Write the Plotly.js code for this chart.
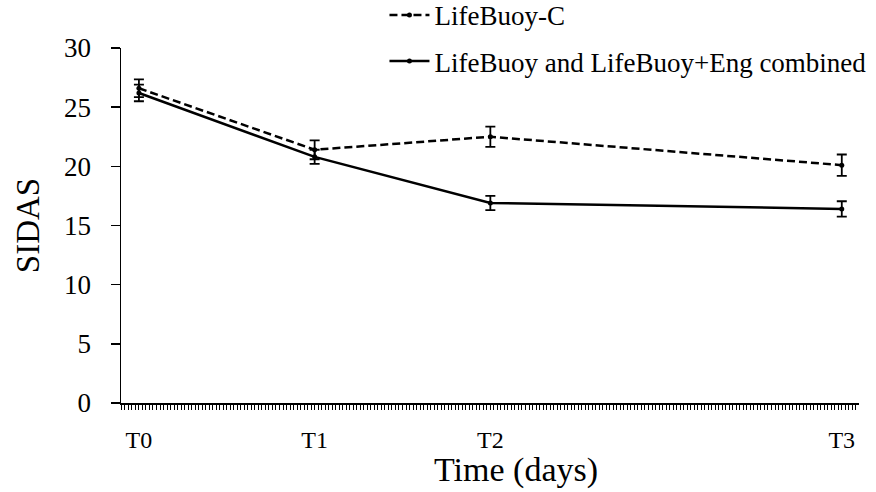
<!DOCTYPE html>
<html>
<head>
<meta charset="utf-8">
<script src="https://cdn.plot.ly/plotly-3.0.1.min.js"></script>
<style>html,body{margin:0;padding:0;background:#fff;} #chart{width:876px;height:492px;}</style>
</head>
<body>
<div id="chart"></div>
<script>
// Data
const timeDays = [0, 50, 100, 200];
const timeLabels = ["T0", "T1", "T2", "T3"];
const seriesNames = ["LifeBuoy-C", "LifeBuoy and LifeBuoy+Eng combined"];
const lifebuoyC = [26.6, 21.4, 22.5, 20.1];
const lifebuoyCErr = [0.75, 0.8, 0.85, 0.9];
const combined = [26.2, 20.8, 16.9, 16.4];
const combinedErr = [0.7, 0.6, 0.6, 0.65];
const yTicks = [0, 5, 10, 15, 20, 25, 30];

const font = "Liberation Serif, Times New Roman, serif";

const traces = [
  {
    x: timeDays, y: lifebuoyC, name: seriesNames[0], type: "scatter", mode: "lines+markers",
    legendgroup: "a",
    line: {color: "#000", width: 2.5, dash: "8px,4px"},
    marker: {color: "#000", size: 5},
    error_y: {type: "data", array: lifebuoyCErr, visible: true, color: "#000", thickness: 1.8, width: 5}
  },
  {
    x: timeDays, y: combined, name: seriesNames[1], type: "scatter", mode: "lines+markers",
    legendgroup: "b",
    line: {color: "#000", width: 2.5},
    marker: {color: "#000", size: 5},
    error_y: {type: "data", array: combinedErr, visible: true, color: "#000", thickness: 1.8, width: 5}
  }
];

const layout = {
  width: 876, height: 492,
  paper_bgcolor: "#fff", plot_bgcolor: "#fff",
  margin: {l: 121, r: 17, t: 48, b: 89, autoexpand: false},
  font: {family: font, color: "#000"},
  showlegend: true,
  legend: {
    x: 0.357, xanchor: "left", y: 1.161, yanchor: "top",
    font: {family: font, size: 27, color: "#000"},
    traceorder: "grouped", tracegroupgap: 8,
    bgcolor: "rgba(0,0,0,0)", itemwidth: 40
  },
  xaxis: {
    range: [-5.1, 204.9],
    tickmode: "array", tickvals: timeDays, ticktext: timeLabels,
    ticks: "outside", ticklen: 5, tickwidth: 1, tickcolor: "#000",
    minor: {dtick: 1, tick0: 0, ticks: "outside", ticklen: 5, tickwidth: 1, tickcolor: "#000"},
    showline: true, linecolor: "#000", linewidth: 1.5,
    showgrid: false, zeroline: false,
    ticklabelstandoff: 10,
    tickfont: {family: font, size: 24, color: "#000"}
  },
  yaxis: {
    range: [0, 30],
    tickmode: "array", tickvals: yTicks,
    ticks: "outside", ticklen: 9, tickwidth: 1.5, tickcolor: "#000",
    showline: true, linecolor: "#000", linewidth: 1.5,
    showgrid: false, zeroline: false,
    ticklabelstandoff: 14,
    tickfont: {family: font, size: 27, color: "#000"},
    title: {text: "SIDAS", font: {family: font, size: 33, color: "#000"}, standoff: 14}
  },
  annotations: [{
    text: "Time (days)", xref: "paper", yref: "paper",
    x: 0.535, y: -0.19, xanchor: "center", yanchor: "middle", showarrow: false,
    font: {family: font, size: 34, color: "#000"}
  }]
};

Plotly.newPlot("chart", traces, layout, {displayModeBar: false, staticPlot: true});
</script>
</body>
</html>
